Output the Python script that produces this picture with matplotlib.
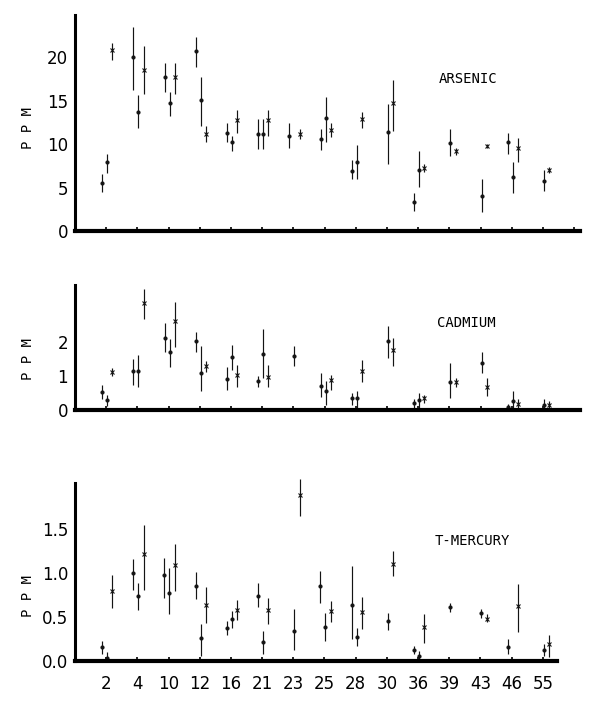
import matplotlib
matplotlib.use("Agg")
import matplotlib.pyplot as plt

SITES = [2, 4, 10, 12, 16, 21, 23, 25, 28, 30, 36, 39, 43, 46, 55]

# rows are (site, value, low end of bar, high end of bar)
AS_DOT1 = [(2, 5.5, 4.5, 6.6), (4, 20.0, 16.3, 23.5), (10, 17.7, 16.0, 19.4),
           (12, 20.8, 18.9, 22.4), (16, 11.3, 10.2, 12.5), (21, 11.2, 9.4, 12.9),
           (23, 11.0, 9.6, 12.4), (25, 10.6, 9.3, 11.8), (28, 6.9, 6.0, 8.2),
           (36, 3.3, 2.3, 4.4), (46, 10.3, 8.9, 11.3)]
AS_DOT2 = [(2, 7.9, 6.7, 8.9), (4, 13.7, 11.9, 15.7), (10, 14.7, 13.3, 16.0),
           (12, 15.1, 12.1, 17.7), (16, 10.3, 9.2, 11.0), (21, 11.2, 9.4, 12.9),
           (25, 13.0, 10.2, 15.4), (28, 8.0, 6.0, 9.9), (30, 11.4, 7.7, 14.6),
           (36, 7.0, 5.1, 9.2), (39, 10.1, 8.6, 11.7), (43, 4.0, 2.2, 6.0),
           (46, 6.2, 4.4, 7.9), (55, 5.8, 4.6, 7.0)]
AS_CROSS = [(2, 20.9, 19.7, 21.7), (4, 18.5, 15.8, 21.3), (10, 17.7, 15.8, 19.4),
            (12, 11.2, 10.2, 12.1), (16, 12.8, 11.3, 14.0), (21, 12.8, 11.0, 14.0),
            (23, 11.2, 10.6, 11.7), (25, 11.6, 10.8, 12.5), (28, 12.9, 11.9, 13.7),
            (30, 14.8, 11.5, 17.4), (36, 7.3, 6.8, 7.7), (39, 9.2, 8.8, 9.6),
            (43, 9.8, 9.6, 10.0), (46, 9.6, 8.0, 10.7), (55, 7.0, 6.7, 7.4)]

CD_DOT1 = [(2, 0.52, 0.31, 0.74), (4, 1.15, 0.74, 1.51), (10, 2.11, 1.70, 2.57),
           (12, 2.04, 1.70, 2.30), (16, 0.91, 0.58, 1.27), (21, 0.86, 0.69, 1.00),
           (25, 0.71, 0.38, 1.08), (28, 0.34, 0.16, 0.50), (36, 0.21, 0.07, 0.31),
           (46, 0.10, 0.0, 0.19)]
CD_DOT2 = [(2, 0.28, 0.13, 0.45), (4, 1.15, 0.69, 1.61), (10, 1.70, 1.27, 2.09),
           (12, 1.08, 0.55, 1.88), (16, 1.56, 1.19, 1.92), (21, 1.65, 0.93, 2.39),
           (23, 1.58, 1.30, 1.89), (25, 0.55, 0.14, 0.84), (28, 0.34, 0.04, 0.55),
           (30, 2.02, 1.54, 2.47), (36, 0.29, 0.07, 0.50), (39, 0.82, 0.34, 1.37),
           (43, 1.39, 1.08, 1.70), (46, 0.26, 0.02, 0.55), (55, 0.16, 0.02, 0.33)]
CD_CROSS = [(2, 1.12, 1.01, 1.25), (4, 3.14, 2.69, 3.56), (10, 2.63, 1.85, 3.19),
            (12, 1.29, 1.12, 1.43), (16, 1.03, 0.69, 1.32), (21, 0.98, 0.69, 1.32),
            (25, 0.87, 0.60, 1.03), (28, 1.14, 0.82, 1.46), (30, 1.78, 1.30, 2.13),
            (36, 0.36, 0.21, 0.45), (39, 0.82, 0.67, 0.93), (43, 0.67, 0.40, 0.93),
            (46, 0.19, 0.04, 0.31), (55, 0.14, 0.04, 0.26)]

HG_DOT1 = [(2, 0.16, 0.08, 0.23), (4, 1.00, 0.81, 1.16), (10, 0.98, 0.72, 1.17),
           (12, 0.85, 0.70, 1.01), (16, 0.37, 0.29, 0.45), (21, 0.74, 0.61, 0.88),
           (25, 0.85, 0.66, 1.02), (28, 0.64, 0.25, 1.08), (36, 0.13, 0.08, 0.17),
           (46, 0.16, 0.08, 0.25)]
HG_DOT2 = [(2, 0.03, 0.01, 0.10), (4, 0.74, 0.58, 0.89), (10, 0.77, 0.53, 1.05),
           (12, 0.26, 0.06, 0.42), (16, 0.48, 0.38, 0.57), (21, 0.22, 0.08, 0.34),
           (23, 0.34, 0.12, 0.59), (25, 0.39, 0.23, 0.55), (28, 0.27, 0.17, 0.37),
           (30, 0.45, 0.35, 0.55), (36, 0.06, 0.01, 0.11), (39, 0.61, 0.56, 0.66),
           (43, 0.54, 0.49, 0.59), (55, 0.13, 0.06, 0.19)]
HG_CROSS = [(2, 0.79, 0.60, 0.98), (4, 1.22, 0.81, 1.54), (10, 1.09, 0.80, 1.33),
            (12, 0.64, 0.43, 0.84), (16, 0.58, 0.46, 0.69), (21, 0.58, 0.42, 0.72),
            (23, 1.88, 1.65, 2.07), (25, 0.57, 0.44, 0.68), (28, 0.56, 0.36, 0.73),
            (30, 1.10, 0.97, 1.25), (36, 0.39, 0.21, 0.53), (43, 0.48, 0.44, 0.53),
            (46, 0.62, 0.33, 0.87), (55, 0.19, 0.05, 0.30)]

NUM_FONT = ["Liberation Sans Narrow", "DejaVu Sans"]
MONO = "DejaVu Sans Mono"
INK = "#141414"


def series(ax, rows, dx, marker, ms):
    x = [SITES.index(r[0]) + 1 + dx for r in rows]
    y = [r[1] for r in rows]
    err = [[r[1] - r[2] for r in rows], [r[3] - r[1] for r in rows]]
    ax.errorbar(x, y, yerr=err, fmt=marker, ms=ms, color=INK, ecolor=INK,
                elinewidth=0.85, capsize=0, mew=0.8, clip_on=False)


def panel(rect, groups, ylim, yticks, fmt, title, title_xy, ppm_y, nxt):
    ax = fig.add_axes(rect)
    for rows, dx, mk, ms in groups:
        series(ax, rows, dx, mk, ms)
    ax.set_ylim(*ylim)
    ax.set_xlim(0, nxt)
    ax.set_yticks(yticks)
    ax.set_yticklabels([fmt.format(v) for v in yticks], family=NUM_FONT, fontsize=12)
    for s in ("top", "right"):
        ax.spines[s].set_visible(False)
    ax.spines["left"].set_linewidth(2.2)
    ax.spines["bottom"].set_linewidth(3.0)
    ax.tick_params(axis="y", length=0, pad=5)
    ax.tick_params(axis="x", direction="in", length=3, width=1.2)
    fig.text(title_xy[0], title_xy[1], title, family=MONO, fontsize=10,
             ha="center", va="center")
    fig.text(0.047, ppm_y, "P P M", family=MONO, fontsize=10, rotation=90,
             ha="center", va="center")
    return ax


fig = plt.figure(figsize=(6.0, 7.12), dpi=100)

ax1 = panel([0.125, 0.6756, 0.842, 0.3034],
            [(AS_DOT1, -0.13, "o", 2.2), (AS_DOT2, 0.03, "o", 2.2), (AS_CROSS, 0.2, "x", 3.2)],
            (0, 24.9), [0, 5, 10, 15, 20], "{:g}", "ARSENIC", (0.78, 0.889), 0.82, 16.19)
ax1.set_xticks(range(1, 17))
ax1.set_xticklabels([])

ax2 = panel([0.125, 0.4242, 0.842, 0.1755],
            [(CD_DOT1, -0.13, "o", 2.2), (CD_DOT2, 0.03, "o", 2.2), (CD_CROSS, 0.2, "x", 3.2)],
            (0, 3.68), [0, 1, 2], "{:g}", "CADMIUM", (0.777, 0.546), 0.496, 16.19)
ax2.set_xticks(range(1, 16))
ax2.set_xticklabels([])

ax3 = panel([0.125, 0.0716, 0.803, 0.25],
            [(HG_DOT1, -0.13, "o", 2.2), (HG_DOT2, 0.03, "o", 2.2), (HG_CROSS, 0.2, "x", 3.2)],
            (0, 2.02), [0.0, 0.5, 1.0, 1.5], "{:.1f}", "T-MERCURY", (0.787, 0.24), 0.163, 15.45)
ax3.set_xticks(range(1, 16))
ax3.set_xticklabels([str(s) for s in SITES], family=NUM_FONT, fontsize=12)
ax3.tick_params(axis="x", pad=10)

fig.savefig("out.png", dpi=100)
